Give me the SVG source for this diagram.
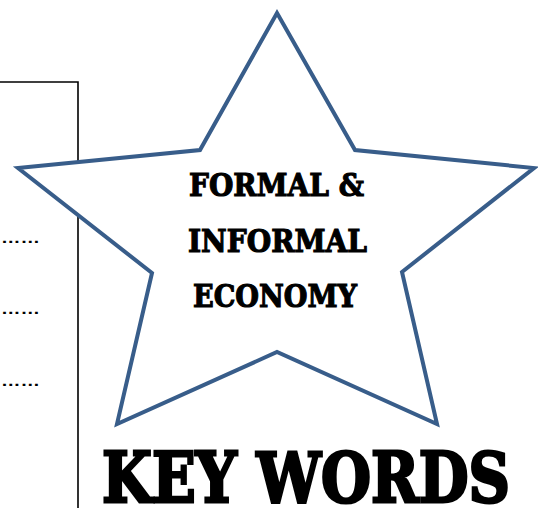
<svg xmlns="http://www.w3.org/2000/svg" width="538" height="508" viewBox="0 0 538 508">
<style>
.box{fill:none;stroke:#000;stroke-width:1.6}
.star{fill:#fff;stroke:#385d8a;stroke-width:4;stroke-linejoin:miter}
.st{font-family:"DejaVu Serif","Liberation Serif",serif;font-weight:bold;fill:#000;stroke:#000}
.dots{font-family:"Liberation Sans",sans-serif;font-size:15px;font-weight:bold;fill:#000}
</style>
<g id="frame">
<path class="box" d="M0,82 H78 V508"/>
<text class="dots" x="1" y="243" textLength="39" lengthAdjust="spacingAndGlyphs">……</text>
<text class="dots" x="1" y="314" textLength="39" lengthAdjust="spacingAndGlyphs">……</text>
<text class="dots" x="1" y="386" textLength="39" lengthAdjust="spacingAndGlyphs">……</text>
</g>
<g id="star">
<polygon class="star" points="277,13 355,150 534,168 402,272 437,424 277,352 117,424 152,273 18,168 200,150"/>
<text class="st" x="189" y="196" font-size="32" stroke-width="1.2" textLength="175" lengthAdjust="spacingAndGlyphs">FORMAL &amp;</text>
<text class="st" x="188" y="252" font-size="32" stroke-width="1.2" textLength="179" lengthAdjust="spacingAndGlyphs">INFORMAL</text>
<text class="st" x="193" y="307" font-size="32" stroke-width="1.2" textLength="164" lengthAdjust="spacingAndGlyphs">ECONOMY</text>
</g>
<g id="title">
<text class="st" x="102" y="502" font-size="70" stroke-width="3" textLength="408" lengthAdjust="spacingAndGlyphs">KEY WORDS</text>
</g>
</svg>
